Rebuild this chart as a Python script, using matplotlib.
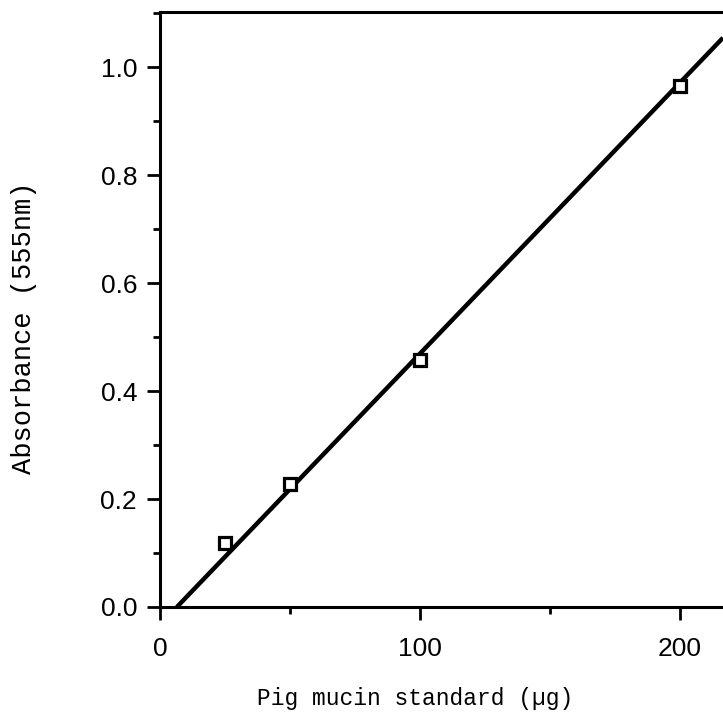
"""Krzywa wzorcowa: absorbancja vs. standard mucyny świńskiej"""

import matplotlib

matplotlib.use("Agg")
import matplotlib.pyplot as plt
import numpy as np
from matplotlib.ticker import MultipleLocator

# dane
mucin_ug = [25, 50, 100, 200]
absorbance = [0.118, 0.228, 0.458, 0.965]
fit_x = [6.5, 216.5]
fit_slope = 0.00502
fit_intercept = -0.0326

x_ticks = [0, 100, 200]
y_ticks = [0.0, 0.2, 0.4, 0.6, 0.8, 1.0]

fig = plt.figure(figsize=(7.23, 7.28), dpi=100)
ax = fig.add_axes([160 / 723, 121 / 728, 563 / 723, 595 / 728])

fx = np.array(fit_x)
ax.plot(fx, fit_slope * fx + fit_intercept, color="black", lw=3.2,
        solid_capstyle="butt", clip_on=True)
ax.plot(mucin_ug, absorbance, ls="none", marker="s", ms=9, mfc="white",
        mec="black", mew=2.3, zorder=3)

ax.set_xlim(0, 216.5)
ax.set_ylim(0, 1.102)
ax.set_xticks(x_ticks)
ax.set_yticks(y_ticks)
ax.xaxis.set_minor_locator(MultipleLocator(50))
ax.yaxis.set_minor_locator(MultipleLocator(0.1))
ax.set_yticklabels([f"{v:.1f}" for v in y_ticks])

for s in ("left", "bottom", "top"):
    ax.spines[s].set_linewidth(2.2)
ax.spines["right"].set_visible(False)

ax.tick_params(which="major", direction="out", length=9.5, width=2.0,
               labelsize=19, pad=7)
ax.tick_params(which="minor", direction="out", length=5, width=2.0)
ax.tick_params(axis="x", which="major", pad=12)
for lab in ax.get_xticklabels() + ax.get_yticklabels():
    lab.set_family(["Liberation Sans", "DejaVu Sans"])

mono = ["Liberation Mono", "DejaVu Sans Mono"]
fig.text(415 / 723, 1 - 699 / 728, "Pig mucin standard (µg)", family=mono,
         fontsize=16.5, ha="center", va="center")
fig.text(24 / 723, 1 - 328 / 728, "Absorbance (555nm)", family=mono,
         fontsize=19.5, ha="center", va="center", rotation=90)

fig.savefig("out.png", dpi=100)
